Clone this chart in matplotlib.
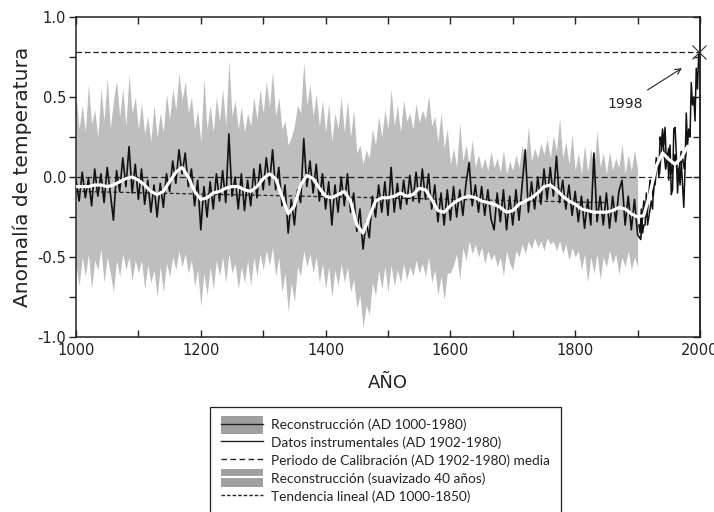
import numpy as np
import matplotlib
matplotlib.use("Agg")
import matplotlib.pyplot as plt
from matplotlib.patches import Patch, Rectangle
from matplotlib.lines import Line2D
from matplotlib.legend_handler import HandlerPatch

plt.rcParams['axes.unicode_minus'] = False
plt.rcParams['font.family'] = ['DejaVu Sans']

# reconstruction, every 5 years, AD 1000-1980
recon = [
    -0.02, -0.15, 0.03, -0.13, -0.01, -0.18, 0.05, -0.12, 0.02, -0.16,
    0.06, -0.10, -0.27, 0.04, -0.09, 0.12, -0.06, 0.19, -0.10, 0.08,
    -0.14, 0.05, -0.17, -0.02, -0.22, -0.05, -0.25, -0.04, -0.19, 0.02,
    -0.09, 0.10, -0.04, 0.17, 0.02, 0.15, -0.06, 0.05, -0.18, -0.02,
    -0.33, -0.06, -0.25, -0.03, -0.20, 0.02, -0.15, 0.04, -0.16, 0.27,
    -0.12, 0.00, -0.20, 0.02, -0.21, -0.02, -0.18, 0.05, -0.13, 0.08,
    -0.08, 0.12, -0.05, 0.17, -0.08, 0.06, -0.18, -0.05, -0.35, -0.14,
    -0.30, -0.08, -0.16, 0.24, -0.06, 0.10, -0.10, 0.08, -0.15, 0.02,
    -0.20, -0.03, -0.30, -0.05, -0.22, 0.00, -0.18, 0.02, -0.22, -0.10,
    -0.34, -0.20, -0.45, -0.28, -0.38, -0.12, -0.25, -0.05, -0.22, -0.03,
    -0.24, 0.06, -0.22, -0.04, -0.20, -0.02, -0.17, 0.01, -0.15, 0.03,
    -0.16, 0.05, -0.14, 0.02, -0.20, -0.05, -0.28, -0.10, -0.30, -0.08,
    -0.27, -0.06, -0.25, -0.08, -0.24, -0.04, 0.09, -0.18, -0.05, -0.22,
    -0.06, -0.24, -0.08, -0.26, -0.33, -0.10, -0.28, -0.08, -0.33, -0.12,
    -0.30, -0.08, -0.27, -0.05, 0.17, -0.22, -0.03, -0.20, 0.00, -0.17,
    0.05, -0.14, 0.06, -0.12, 0.13, -0.16, -0.02, -0.20, -0.05, -0.24,
    -0.09, -0.28, -0.12, -0.32, -0.14, -0.30, 0.15, -0.28, -0.12, -0.30,
    -0.10, -0.32, -0.12, -0.28, -0.09, -0.02, -0.30, -0.12, -0.33, -0.14,
    -0.36, -0.39, -0.15, -0.25, -0.02, -0.12, 0.12, 0.02, 0.25, 0.05,
    0.18, 0.02, 0.14, 0.00, 0.16, 0.05, 0.25,
]
recon_years = np.arange(1000, 1981, 5)

# 40-year smoothed reconstruction, every 10 years
smooth = [
    -0.06, -0.06, -0.06, -0.05, -0.05, -0.06, -0.05, -0.03, -0.01, 0.00,
    -0.02, -0.05, -0.09, -0.11, -0.09, -0.03, 0.03, 0.06, 0.00, -0.09,
    -0.14, -0.13, -0.10, -0.09, -0.07, -0.06, -0.06, -0.08, -0.09, -0.06,
    -0.01, 0.02, -0.01, -0.12, -0.23, -0.18, -0.05, 0.01, -0.01, -0.07,
    -0.12, -0.13, -0.11, -0.09, -0.15, -0.30, -0.35, -0.25, -0.15, -0.13,
    -0.13, -0.12, -0.10, -0.12, -0.11, -0.07, -0.08, -0.14, -0.21, -0.22,
    -0.18, -0.15, -0.13, -0.12, -0.13, -0.15, -0.16, -0.17, -0.19, -0.22,
    -0.21, -0.17, -0.15, -0.13, -0.10, -0.06, -0.05, -0.08, -0.12, -0.15,
    -0.17, -0.20, -0.21, -0.22, -0.22, -0.22, -0.21, -0.19, -0.20, -0.23,
    -0.25, -0.24, -0.10, 0.07, 0.15, 0.11, 0.08, 0.12, 0.19,
]
smooth_years = np.arange(1000, 1981, 10)

# uncertainty band, every 5 years, AD 1000-1900
band_upper = [
    0.52, 0.30, 0.45, 0.28, 0.58, 0.33, 0.42, 0.25, 0.55, 0.35,
    0.62, 0.30, 0.48, 0.60, 0.38, 0.55, 0.32, 0.64, 0.40, 0.50,
    0.30, 0.46, 0.27, 0.38, 0.22, 0.45, 0.25, 0.40, 0.28, 0.52,
    0.36, 0.55, 0.42, 0.65, 0.48, 0.60, 0.40, 0.50, 0.30, 0.42,
    0.22, 0.62, 0.30, 0.45, 0.28, 0.50, 0.35, 0.55, 0.32, 0.73,
    0.38, 0.48, 0.30, 0.44, 0.28, 0.40, 0.32, 0.50, 0.36, 0.55,
    0.40, 0.60, 0.44, 0.66, 0.38, 0.50, 0.30, 0.35, 0.20, 0.25,
    0.32, 0.45, 0.40, 0.72, 0.45, 0.58, 0.38, 0.52, 0.32, 0.48,
    0.28, 0.46, 0.22, 0.40, 0.30, 0.50, 0.28, 0.48, 0.25, 0.42,
    0.15, 0.20, 0.08, 0.17, 0.12, 0.30, 0.20, 0.38, 0.25, 0.42,
    0.30, 0.55, 0.32, 0.45, 0.28, 0.48, 0.35, 0.40, 0.30, 0.46,
    0.34, 0.42, 0.36, 0.51, 0.32, 0.38, 0.22, 0.40, 0.18, 0.30,
    0.08, 0.18, 0.06, 0.34, 0.10, 0.20, 0.08, 0.23, 0.06, 0.14,
    0.05, 0.12, 0.04, 0.16, 0.06, 0.12, 0.03, 0.17, 0.02, 0.10,
    0.04, 0.14, 0.06, 0.20, 0.08, 0.32, 0.10, 0.18, 0.12, 0.21,
    0.14, 0.24, 0.12, 0.26, 0.16, 0.37, 0.12, 0.22, 0.08, 0.27,
    0.04, 0.15, 0.02, 0.20, 0.03, 0.18, 0.05, 0.29, 0.06, 0.15,
    0.02, 0.16, 0.04, 0.12, 0.06, 0.21, 0.02, 0.14, 0.04, 0.17,
    0.05,
]
band_lower = [
    -0.55, -0.68, -0.50, -0.62, -0.48, -0.70, -0.52, -0.58, -0.45, -0.66,
    -0.50, -0.60, -0.72, -0.52, -0.62, -0.48, -0.58, -0.50, -0.65, -0.52,
    -0.60, -0.52, -0.70, -0.55, -0.66, -0.58, -0.75, -0.56, -0.72, -0.54,
    -0.62, -0.50, -0.58, -0.46, -0.56, -0.48, -0.60, -0.52, -0.68, -0.58,
    -0.81, -0.60, -0.74, -0.56, -0.70, -0.52, -0.62, -0.50, -0.66, -0.48,
    -0.60, -0.54, -0.70, -0.56, -0.66, -0.52, -0.68, -0.50, -0.62, -0.48,
    -0.58, -0.46, -0.55, -0.44, -0.62, -0.50, -0.72, -0.60, -0.84, -0.66,
    -0.78, -0.56, -0.62, -0.46, -0.56, -0.48, -0.60, -0.50, -0.66, -0.54,
    -0.70, -0.56, -0.75, -0.58, -0.68, -0.54, -0.66, -0.56, -0.72, -0.64,
    -0.82, -0.74, -0.94, -0.80, -0.86, -0.66, -0.74, -0.58, -0.70, -0.56,
    -0.72, -0.55, -0.68, -0.58, -0.66, -0.54, -0.64, -0.56, -0.62, -0.52,
    -0.60, -0.54, -0.62, -0.50, -0.66, -0.58, -0.74, -0.62, -0.77, -0.60,
    -0.60, -0.55, -0.48, -0.64, -0.44, -0.52, -0.40, -0.48, -0.42, -0.50,
    -0.44, -0.54, -0.46, -0.52, -0.48, -0.56, -0.50, -0.62, -0.46, -0.54,
    -0.58, -0.46, -0.50, -0.42, -0.48, -0.40, -0.45, -0.38, -0.44, -0.40,
    -0.46, -0.38, -0.42, -0.40, -0.46, -0.40, -0.48, -0.42, -0.52, -0.44,
    -0.50, -0.46, -0.58, -0.48, -0.66, -0.50, -0.60, -0.48, -0.64, -0.50,
    -0.56, -0.46, -0.54, -0.48, -0.61, -0.50, -0.56, -0.46, -0.58, -0.50,
    -0.56,
]
band_years = np.arange(1000, 1901, 5)

# instrumental record, every 2 years, AD 1902-1998
instr = [
    -0.30, -0.35, -0.20, -0.35, -0.30, -0.30, -0.10, -0.30, -0.25, -0.20,
    -0.15, -0.20, 0.00, -0.05, 0.05, 0.10, 0.00, 0.25, 0.20, 0.30,
    0.20, 0.31, 0.10, 0.15, -0.02, 0.20, -0.11, -0.08, 0.30, 0.31,
    0.15, -0.10, 0.05, -0.05, 0.10, -0.05, -0.19, 0.05, 0.40, 0.20,
    0.30, 0.25, 0.59, 0.45, 0.50, 0.35, 0.68, 0.55, 0.78,
]
instr_years = np.arange(1902, 1999, 2)

calib_mean = 0.0
record_1998 = 0.78
trend_years = [1000, 1850]
trend_vals = [-0.09, -0.16]

grey = '#bebebe'
ink = '#222222'

fig = plt.figure(figsize=(7.14, 5.12), dpi=100)
ax = fig.add_axes([76/714, 1-337/512, 624/714, 320/512])

ax.fill_between(band_years, band_lower, band_upper, color=grey, lw=0, zorder=1)
ax.axhline(record_1998, color=ink, lw=0.9, dashes=(4.5, 2.2), zorder=2)
ax.axhline(calib_mean, color=ink, lw=0.9, dashes=(5, 2.5), zorder=2)
ax.plot(trend_years, trend_vals, color=ink, lw=0.9, dashes=(3, 2), zorder=2)
ax.plot(recon_years, recon, color='#121212', lw=1.2, zorder=3)
ax.plot(instr_years, instr, color='#121212', lw=1.1, zorder=3)
ax.plot(smooth_years, smooth, color='white', lw=2.3, solid_joinstyle='round', zorder=4)
ax.plot([1998], [record_1998], marker='x', ms=10, mew=0.8, color='#333333', zorder=5,
        clip_on=False)

ax.annotate('1998', xy=(1971, 0.68), xytext=(1880, 0.455), fontsize=10,
            ha='center', va='center', color=ink,
            arrowprops=dict(arrowstyle='->', lw=0.8, color=ink, shrinkA=6, shrinkB=0))

ax.set_xlim(1000, 2000)
ax.set_ylim(-1, 1)
ax.set_xticks(np.arange(1000, 2001, 200))
ax.set_xticks(np.arange(1000, 2001, 100), minor=True)
ax.set_yticks([-1.0, -0.5, 0.0, 0.5, 1.0])
ax.set_yticklabels(['-1.0', '-0.5', '0.0', '0.5', '1.0'])
ax.set_yticks(np.arange(-1, 1.01, 0.25), minor=True)
ax.tick_params(axis='x', which='both', direction='in', top=True, length=5, width=1,
               labelsize=10.5, pad=4, colors=ink)
ax.tick_params(axis='y', which='both', direction='out', right=False, length=5, width=1,
               labelsize=10.5, pad=2, colors=ink)
sec = ax.secondary_yaxis('right')
sec.set_yticks(np.arange(-1, 1.01, 0.25))
sec.tick_params(direction='in', length=5, width=1, labelright=False, colors=ink)
for sp in list(ax.spines.values()) + list(sec.spines.values()):
    sp.set_linewidth(1.1)
    sp.set_color(ink)

ax.set_xlabel('AÑO', fontsize=13, color=ink, labelpad=12)
ax.set_ylabel('Anomalía de temperatura', fontsize=14.5, color=ink, labelpad=4)


def tall_rect(legend, orig_handle, xdescent, ydescent, width, height, fontsize):
    h = height * 1.3
    return Rectangle((-xdescent, -ydescent + height / 2 - h / 2), width, h)


handles = [
    (Patch(fc='#a0a0a0', ec='none'), Line2D([], [], color=ink, lw=1)),
    Line2D([], [], color=ink, lw=1),
    Line2D([], [], color=ink, lw=1, dashes=(4, 2.5)),
    (Patch(fc='#a0a0a0', ec='none'), Line2D([], [], color='white', lw=1.5)),
    Line2D([], [], color=ink, lw=1, dashes=(2.5, 1.5)),
]
labels = [
    'Reconstrucción (AD 1000-1980)',
    'Datos instrumentales (AD 1902-1980)',
    'Periodo de Calibración (AD 1902-1980) media',
    'Reconstrucción (suavizado 40 años)',
    'Tendencia lineal (AD 1000-1850)',
]
leg = fig.legend(handles, labels, loc='upper left', bbox_to_anchor=(210/714, 1-407/512),
                 borderaxespad=0, frameon=True, fancybox=False, framealpha=1,
                 edgecolor=ink, handlelength=3.1, handleheight=1.2,
                 handletextpad=0.6, labelspacing=0.28, borderpad=0.8,
                 handler_map={Patch: HandlerPatch(patch_func=tall_rect)},
                 prop={'family': 'Lato', 'size': 9.8})
leg.get_frame().set_linewidth(0.9)
for t in leg.get_texts():
    t.set_color(ink)

fig.savefig('out.png', dpi=100)
